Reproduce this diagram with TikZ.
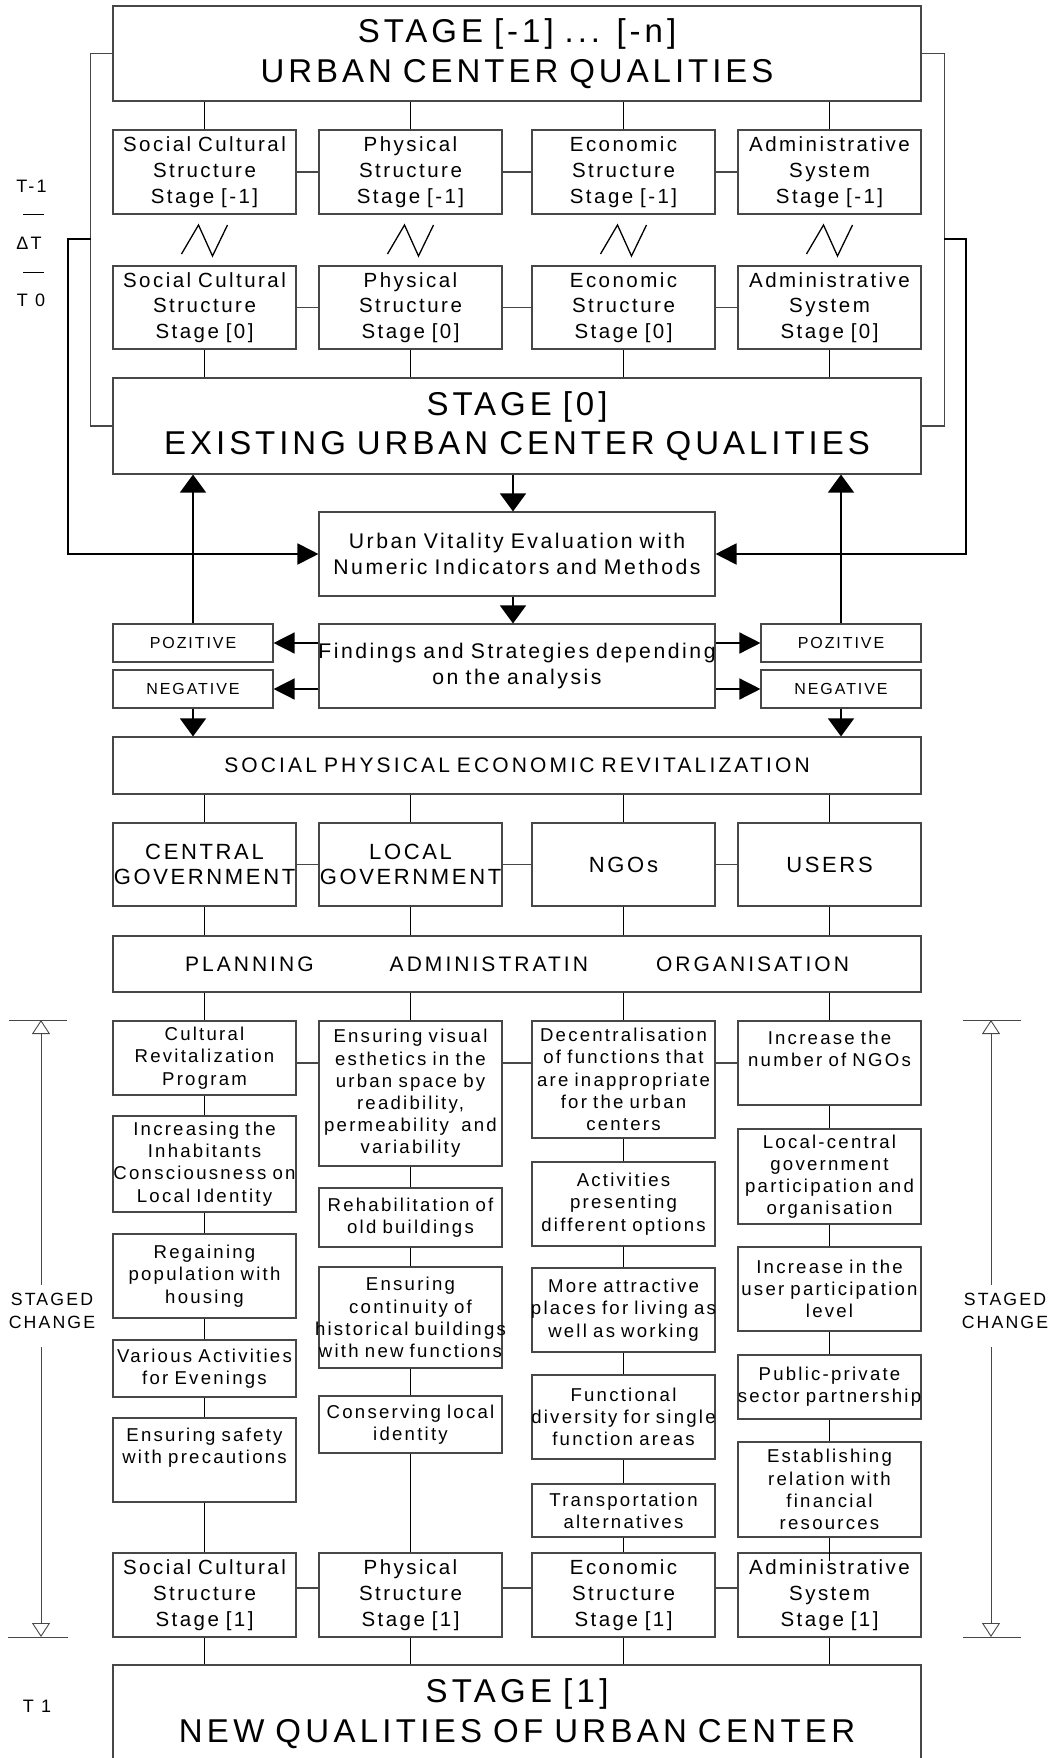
\documentclass[tikz,border=0pt]{standalone}
\usepackage{fontspec}
\setmainfont{Liberation Sans}[LetterSpace=12]
\usetikzlibrary{arrows.meta}
\definecolor{bgray}{gray}{0.28}
\newcommand\fbig{\fontsize{33}{39.5}\selectfont}
\newcommand\fmed{\fontsize{20.5}{25.7}\selectfont}
\newcommand\fuv{\fontsize{21.2}{25.5}\selectfont}
\newcommand\fsoc{\fontsize{21}{25}\selectfont\addfontfeatures{LetterSpace=15}}
\newcommand\fplan{\fontsize{21}{25}\selectfont\addfontfeatures{LetterSpace=14.5}}
\newcommand\fgov{\fontsize{22}{25}\selectfont}
\newcommand\fstr{\fontsize{18.6}{22.2}\selectfont}
\newcommand\fsml{\fontsize{16}{19}\selectfont}
\newcommand\flab{\fontsize{18}{22}\selectfont}
\newcommand\wl[1]{\makebox[\linewidth][c]{#1}}
\tikzset{
  bx/.style={draw=bgray, line width=1.1pt, inner sep=0pt, align=center, fill=white},
  cw/.style={text width=183pt, minimum width=183pt},
  fw/.style={text width=808pt, minimum width=808pt},
  mw/.style={text width=396pt, minimum width=396pt},
  pw/.style={text width=160pt, minimum width=160pt, minimum height=38pt, font=\fsml},
  stg/.style={bx, cw, font=\fmed},
  sbx/.style={bx, cw, font=\fstr},
  conn/.style={black, line width=1.4pt},
  link/.style={bgray, line width=1.1pt},
  loopl/.style={black, line width=1.9pt},
  arrv/.style={conn, -{Triangle[length=18pt,width=26pt]}},
  arrh/.style={conn, -{Triangle[length=21pt,width=21pt]}},
  arrl/.style={loopl, -{Triangle[length=21pt,width=21pt]}},
  gline/.style={bgray, line width=0.9pt},
  garr/.style={gline, -{Triangle[open,length=14pt,width=18pt]}},
  zz/.style={black, line width=1.3pt},
  lab/.style={inner sep=0pt, font=\flab},
}
\begin{document}
\begin{tikzpicture}[x=1pt,y=-1pt]
\useasboundingbox (0,0) rectangle (1058,1758);
% ---------- top part
\node[bx,fw,font=\fbig,minimum height=95pt] (T) at (517,53.5) {STAGE [-1] ... [-n]\\URBAN CENTER QUALITIES};
\node[stg,minimum height=84pt] (a1) at (204.5,172) {Social Cultural\\Structure\\Stage [-1]};
\node[stg,minimum height=84pt] (a2) at (410.5,172) {Physical\\Structure\\Stage [-1]};
\node[stg,minimum height=84pt] (a3) at (623.5,172) {Economic\\Structure\\Stage [-1]};
\node[stg,minimum height=84pt] (a4) at (829.5,172) {Administrative\\System\\Stage [-1]};
\node[stg,minimum height=83pt] (b1) at (204.5,307.5) {Social Cultural\\Structure\\Stage [0]};
\node[stg,minimum height=83pt] (b2) at (410.5,307.5) {Physical\\Structure\\Stage [0]};
\node[stg,minimum height=83pt] (b3) at (623.5,307.5) {Economic\\Structure\\Stage [0]};
\node[stg,minimum height=83pt] (b4) at (829.5,307.5) {Administrative\\System\\Stage [0]};
\node[bx,fw,font=\fbig,minimum height=96pt] (S0) at (517,426) {STAGE [0]\\EXISTING URBAN CENTER QUALITIES};
\node[bx,mw,font=\fuv,minimum height=84pt] (UV) at (517,554) {Urban Vitality Evaluation with\\Numeric Indicators and Methods};
\node[bx,mw,font=\fuv,minimum height=84pt] (FS) at (517,666) {\wl{Findings and Strategies depending}\\on the analysis};
\node[bx,pw] (PL) at (193,643) {POZITIVE};
\node[bx,pw] (NL) at (193,689) {NEGATIVE};
\node[bx,pw] (PR) at (841,643) {POZITIVE};
\node[bx,pw] (NR) at (841,689) {NEGATIVE};
\node[bx,fw,font=\fsoc,minimum height=57pt] (SOC) at (517,765.5) {SOCIAL PHYSICAL ECONOMIC REVITALIZATION};
\node[bx,cw,font=\fgov,minimum height=83pt] (g1) at (204.5,864.5) {CENTRAL\\\wl{GOVERNMENT}};
\node[bx,cw,font=\fgov,minimum height=83pt] (g2) at (410.5,864.5) {LOCAL\\\wl{GOVERNMENT}};
\node[bx,cw,font=\fgov,minimum height=83pt] (g3) at (623.5,864.5) {NGOs};
\node[bx,cw,font=\fgov,minimum height=83pt] (g4) at (829.5,864.5) {USERS};
\node[bx,fw,font=\fplan,minimum height=56pt] (PLAN) at (517,964) {PLANNING\hspace{76pt}ADMINISTRATIN\hspace{68pt}ORGANISATION};
% ---------- strategies
\node[sbx,minimum height=74pt] (s11) at (204.5,1058) {Cultural\\Revitalization\\Program};
\node[sbx,minimum height=96pt] (s12) at (204.5,1164) {Increasing the\\Inhabitants\\\wl{Consciousness on}\\Local Identity};
\node[sbx,minimum height=84pt] (s13) at (204.5,1276) {Regaining\\population with\\housing};
\node[sbx,minimum height=57pt] (s14) at (204.5,1368.5) {Various Activities\\for Evenings};
\node[sbx,minimum height=84pt] (s15) at (204.5,1460) {Ensuring safety\\with precautions\\\strut};
\node[sbx,minimum height=145pt] (s21) at (410.5,1093.5) {Ensuring visual\\esthetics in the\\urban space by\\readibility,\\permeability \ and\\variability};
\node[sbx,minimum height=59pt] (s22) at (410.5,1217.5) {Rehabilitation of\\old buildings};
\node[sbx,minimum height=101pt] (s23) at (410.5,1317.5) {Ensuring\\continuity of\\\wl{historical buildings}\\\wl{with new functions}};
\node[sbx,minimum height=57pt] (s24) at (410.5,1424.5) {Conserving local\\identity};
\node[sbx,minimum height=117pt] (s31) at (623.5,1079.5) {Decentralisation\\of functions that\\\wl{are inappropriate}\\for the urban\\centers};
\node[sbx,minimum height=84pt] (s32) at (623.5,1204) {Activities\\presenting\\different options};
\node[sbx,minimum height=84pt] (s33) at (623.5,1310) {More attractive\\\wl{places for living as}\\well as working};
\node[sbx,minimum height=84pt] (s34) at (623.5,1417) {Functional\\\wl{diversity for single}\\function areas};
\node[sbx,minimum height=53pt] (s35) at (623.5,1510.5) {Transportation\\alternatives};
\node[sbx,minimum height=84pt] (s41) at (829.5,1063) {Increase the\\number of NGOs\\\strut};
\node[sbx,minimum height=95pt] (s42) at (829.5,1176.5) {Local-central\\government\\participation and\\organisation};
\node[sbx,minimum height=84pt] (s43) at (829.5,1289) {Increase in the\\user participation\\level};
\node[sbx,minimum height=64pt] (s44) at (829.5,1387) {Public-private\\\wl{sector partnership}};
\node[sbx,minimum height=95pt] (s45) at (829.5,1489.5) {Establishing\\relation with\\financial\\resources};
% ---------- stage 1
\node[stg,minimum height=84pt] (r1) at (204.5,1595) {Social Cultural\\Structure\\Stage [1]};
\node[stg,minimum height=84pt] (r2) at (410.5,1595) {Physical\\Structure\\Stage [1]};
\node[stg,minimum height=84pt] (r3) at (623.5,1595) {Economic\\Structure\\Stage [1]};
\node[stg,minimum height=84pt] (r4) at (829.5,1595) {Administrative\\System\\Stage [1]};
\node[bx,fw,font={\fbig\addfontfeatures{LetterSpace=13}},minimum height=97pt] (P1) at (517,1713.5) {STAGE [1]\\NEW QUALITIES OF URBAN CENTER};
% ---------- connectors top
\foreach \i in {1,...,4} {
  \draw[conn] (T.south -| a\i.north) -- (a\i.north);
  \draw[conn] (b\i.south) -- (b\i.south |- S0.north);
  \draw[conn] (SOC.south -| g\i.north) -- (g\i.north);
  \draw[conn] (g\i.south) -- (g\i.south |- PLAN.north);
  \draw[conn] (r\i.south) -- (r\i.south |- P1.north);
}
\draw[conn] (PLAN.south -| s11.north) -- (s11.north);
\draw[conn] (PLAN.south -| s21.north) -- (s21.north);
\draw[conn] (PLAN.south -| s31.north) -- (s31.north);
\draw[conn] (PLAN.south -| s41.north) -- (s41.north);
\foreach \p/\q in {1/2,2/3,3/4} {
  \draw[link] (a\p.east) -- (a\q.west);
  \draw[link] (b\p.east) -- (b\q.west);
  \draw[link] (g\p.east) -- (g\q.west);
  \draw[link] ([yshift=7pt]r\p.east) -- ([yshift=7pt]r\q.west);
}
\draw[link] (s11.east |- s41.center) -- (s21.west |- s41.center);
\draw[link] (s21.east |- s41.center) -- (s31.west |- s41.center);
\draw[link] (s31.east |- s41.center) -- (s41.west);
% zigzags
\foreach \c in {204.5,410.5,623.5,829.5} {
  \draw[zz] (\c-23,254) -- (\c-6,225) -- (\c+8,256) -- (\c+23,225);
}
% brackets
\draw[link] (T.west) -- ++(-22,0) |- (S0.west);
\draw[link] (T.east) -- ++(23,0) |- (S0.east);
\coordinate (jl) at (91,239);
\coordinate (jr) at (944,239);
\draw[arrl] (jl) -- ++(-23,0) |- (UV.west);
\draw[arrl] (jr) -- ++(22,0) |- (UV.east);
% arrows middle
\draw[arrv] ([xshift=-4pt]S0.south) -- ([xshift=-4pt]UV.north);
\draw[arrv] ([xshift=-4pt]UV.south) -- ([xshift=-4pt]FS.north);
\draw[arrh] (FS.west |- PL.east) -- (PL.east);
\draw[arrh] (FS.west |- NL.east) -- (NL.east);
\draw[arrh] (FS.east |- PR.west) -- (PR.west);
\draw[arrh] (FS.east |- NR.west) -- (NR.west);
\draw[arrv] (PL.north) -- (PL.north |- S0.south);
\draw[arrv] (PR.north) -- (PR.north |- S0.south);
\draw[arrv] (NL.south) -- (NL.south |- SOC.north);
\draw[arrv] (NR.south) -- (NR.south |- SOC.north);
% strategy chains
\draw[conn] (s11.south) -- (s12.north);
\draw[conn] (s12.south) -- (s13.north);
\draw[conn] (s13.south) -- (s14.north);
\draw[conn] (s14.south) -- (s15.north);
\draw[conn] (s15.south) -- (r1.north);
\draw[conn] (s21.south) -- (s22.north);
\draw[conn] (s22.south) -- (s23.north);
\draw[conn] (s23.south) -- (s24.north);
\draw[conn] (s24.south) -- (r2.north);
\draw[conn] (s31.south) -- (s32.north);
\draw[conn] (s32.south) -- (s33.north);
\draw[conn] (s33.south) -- (s34.north);
\draw[conn] (s34.south) -- (s35.north);
\draw[conn] (s35.south) -- (r3.north);
\draw[conn] (s41.south) -- (s42.north);
\draw[conn] (s42.south) -- (s43.north);
\draw[conn] (s43.south) -- (s44.north);
\draw[conn] (s44.south) -- (s45.north);
\draw[conn] (s45.south) -- ([yshift=-9pt]r4.north);
% ---------- left labels
\node[lab] (t1) at (31.5,186) {T-1};
\node[lab] (dt) at (29,243) {ΔT};
\node[lab] (t0) at (31,300) {T 0};
\node[lab] (tt1) at (37,1706) {T 1};
\draw[black, line width=0.9pt] (23,214) -- (44,214);
\draw[black, line width=0.9pt] (23,272) -- (44,272);
% ---------- staged change
\node[lab, align=center, font=\fontsize{17.7}{22.5}\selectfont] (scl) at (52,1311) {STAGED\\CHANGE};
\node[lab, align=center, font=\fontsize{17.7}{22.5}\selectfont] (scr) at (1005,1311) {STAGED\\CHANGE};
\coordinate (sclt) at (41,1020); \coordinate (sclu) at (41,1285);
\coordinate (scld) at (41,1347); \coordinate (sclb) at (41,1637);
\coordinate (scrt) at (991,1020); \coordinate (scru) at (991,1285);
\coordinate (scrd) at (991,1347); \coordinate (scrb) at (991,1637);
\draw[gline] (9,1020) -- (67,1020);
\draw[gline] (8,1637) -- (68,1637);
\draw[gline] (963,1020) -- (1021,1020);
\draw[gline] (963,1637) -- (1021,1637);
\draw[garr] (sclu) -- (sclt);
\draw[garr] (scld) -- (sclb);
\draw[garr] (scru) -- (scrt);
\draw[garr] (scrd) -- (scrb);
\end{tikzpicture}
\end{document}
